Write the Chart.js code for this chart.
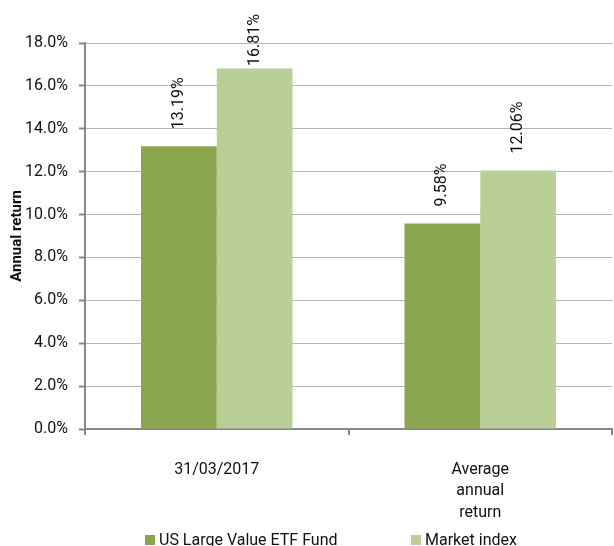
<!DOCTYPE html>
<html lang="en">
<head>
    <meta charset="UTF-8">
    <title>Annual return</title>
    <script src="https://cdn.jsdelivr.net/npm/chart.js"></script>
    <style>
        html, body { margin: 0; padding: 0; background: #fff; }
        #wrap { width: 614px; height: 546px; }
    </style>
</head>
<body>
    <div id="wrap"><canvas id="returnsChart"></canvas></div>

    <script>
        const categories = ["31/03/2017", ["Average", "annual", "return"]];
        const fundReturns = [13.19, 9.58];
        const indexReturns = [16.81, 12.06];
        const seriesNames = ["US Large Value ETF Fund", "Market index"];
        const seriesColors = ["#8aa64f", "#bacf98"];

        const FONT = 'Roboto';

        // rotated value labels above each bar
        const barLabels = {
            id: 'barLabels',
            afterDatasetsDraw(chart) {
                const ctx = chart.ctx;
                ctx.save();
                ctx.font = '16px ' + FONT;
                ctx.fillStyle = '#111';
                ctx.textAlign = 'left';
                ctx.textBaseline = 'middle';
                chart.data.datasets.forEach((ds, i) => {
                    chart.getDatasetMeta(i).data.forEach((bar, j) => {
                        const txt = ds.data[j].toFixed(2) + '%';
                        const w = ctx.measureText(txt).width;
                        // keep label inside the canvas when the bar is tall
                        const start = Math.max(bar.y - 17, 14 + w);
                        ctx.save();
                        ctx.translate(bar.x, start);
                        ctx.rotate(-Math.PI / 2);
                        ctx.fillText(txt, 0, 0);
                        ctx.restore();
                    });
                });
                ctx.restore();
            }
        };

        // legend drawn by hand so the spacing follows the original
        const bottomLegend = {
            id: 'bottomLegend',
            afterDraw(chart) {
                const ctx = chart.ctx;
                const y = 540;
                const starts = [145, 411];
                ctx.save();
                ctx.font = '16px ' + FONT;
                ctx.textBaseline = 'middle';
                ctx.textAlign = 'left';
                chart.data.datasets.forEach((ds, i) => {
                    ctx.fillStyle = ds.backgroundColor;
                    ctx.fillRect(starts[i], y - 5, 10, 10);
                    ctx.fillStyle = '#111';
                    ctx.fillText(ds.label, starts[i] + 14, y + 1);
                });
                ctx.restore();
            }
        };

        new Chart(document.getElementById('returnsChart'), {
            type: 'bar',
            data: {
                labels: categories,
                datasets: [
                    { label: seriesNames[0], data: fundReturns, backgroundColor: seriesColors[0] },
                    { label: seriesNames[1], data: indexReturns, backgroundColor: seriesColors[1] }
                ]
            },
            options: {
                responsive: true,
                maintainAspectRatio: false,
                animation: false,
                layout: { padding: { top: 43, right: 2, left: 6, bottom: 28 } },
                datasets: { bar: { categoryPercentage: 0.575, barPercentage: 1 } },
                plugins: {
                    tooltip: { enabled: false },
                    legend: { display: false }
                },
                scales: {
                    x: {
                        afterFit: s => { s.height = 89; },
                        grid: { drawOnChartArea: false, tickLength: 6, tickColor: '#888', lineWidth: 2 },
                        border: { color: '#888', width: 2 },
                        ticks: {
                            font: { family: FONT, size: 16, lineHeight: 1.34 },
                            color: '#111',
                            padding: 24,
                            maxRotation: 0
                        }
                    },
                    y: {
                        min: 0,
                        max: 18,
                        afterFit: s => { s.width = 79; },
                        title: {
                            display: true,
                            text: 'Annual return',
                            font: { family: FONT, size: 15, weight: 'bold', lineHeight: 1.2 },
                            color: '#111',
                            padding: { top: 2, bottom: 0 }
                        },
                        grid: {
                            color: '#b5b5b5',
                            borderDash: [2, 1],
                            tickLength: 6,
                            tickColor: '#888',
                            tickBorderDash: [],
                            tickWidth: 2
                        },
                        border: { color: '#888', width: 2 },
                        ticks: {
                            stepSize: 2,
                            font: { family: FONT, size: 16 },
                            color: '#111',
                            padding: 11,
                            callback: v => v.toFixed(1) + '%'
                        }
                    }
                }
            },
            plugins: [barLabels, bottomLegend]
        });
    </script>
</body>
</html>
